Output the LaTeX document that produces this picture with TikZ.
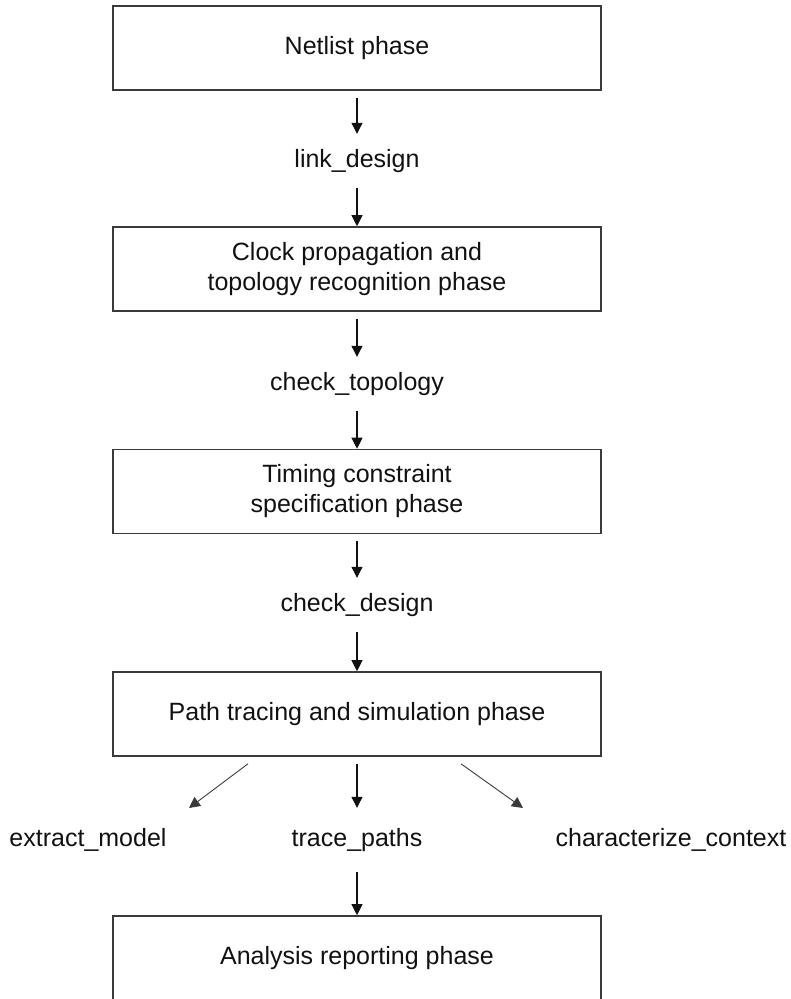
\documentclass[tikz,border=0pt]{standalone}
\usepackage{fontspec}
\setmainfont{Liberation Sans}
\usetikzlibrary{arrows.meta}
\definecolor{boxgray}{HTML}{3A3A3A}
\definecolor{inkblack}{HTML}{111111}
\begin{document}
\begin{tikzpicture}[x=1pt,y=-1pt,
  phase/.style={draw=boxgray,line width=1.6pt,minimum width=488pt,minimum height=84pt,
    inner sep=0pt,align=center,font=\fontsize{25}{30}\selectfont,text=inkblack},
  cmd/.style={inner sep=0pt,minimum height=54pt,font=\fontsize{25}{30}\selectfont,text=inkblack},
  arr/.style={draw=inkblack,line width=1.1pt,-{Triangle[length=11pt,width=11pt]}},
  darr/.style={draw=boxgray,line width=0.9pt,-{Triangle[length=11pt,width=11pt]}}]
\useasboundingbox (0,0) rectangle (791,999);

\node[phase] (p1) at (357,48) {Netlist phase};
\node[cmd] (c1) at (357,161) {link\_design};
\node[phase] (p2) at (357,269) {Clock propagation and\\topology recognition phase};
\node[cmd] (c2) at (357,384) {check\_topology};
\node[phase] (p3) at (357,491.5) {Timing constraint\\specification phase};
\node[cmd] (c3) at (357,605) {check\_design};
\node[phase] (p4) at (357,714) {Path tracing and simulation phase};
\node[cmd,minimum height=64pt] (c4b) at (357,840) {trace\_paths};
\node[cmd] (c4a) at (88,840) {extract\_model};
\node[cmd] (c4c) at (671,840) {characterize\_context};
\node[phase] (p5) at (357,958) {Analysis reporting phase};

\coordinate (t1) at (189,808);
\coordinate (t3) at (523,808);

\draw[arr] ([yshift=-7pt]p1.south) -- (c1.north);
\draw[arr] (c1.south) -- (p2.north);
\draw[arr] ([yshift=-7pt]p2.south) -- (c2.north);
\draw[arr] (c2.south) -- (p3.north);
\draw[arr] ([yshift=-7pt]p3.south) -- (c3.north);
\draw[arr] (c3.south) -- (p4.north);
\draw[darr] ([xshift=-109pt,yshift=-7pt]p4.south) -- (t1);
\draw[arr] ([yshift=-7pt]p4.south) -- (c4b.north);
\draw[darr] ([xshift=104pt,yshift=-7pt]p4.south) -- (t3);
\draw[arr] (c4b.south) -- (p5.north);
\end{tikzpicture}
\end{document}
